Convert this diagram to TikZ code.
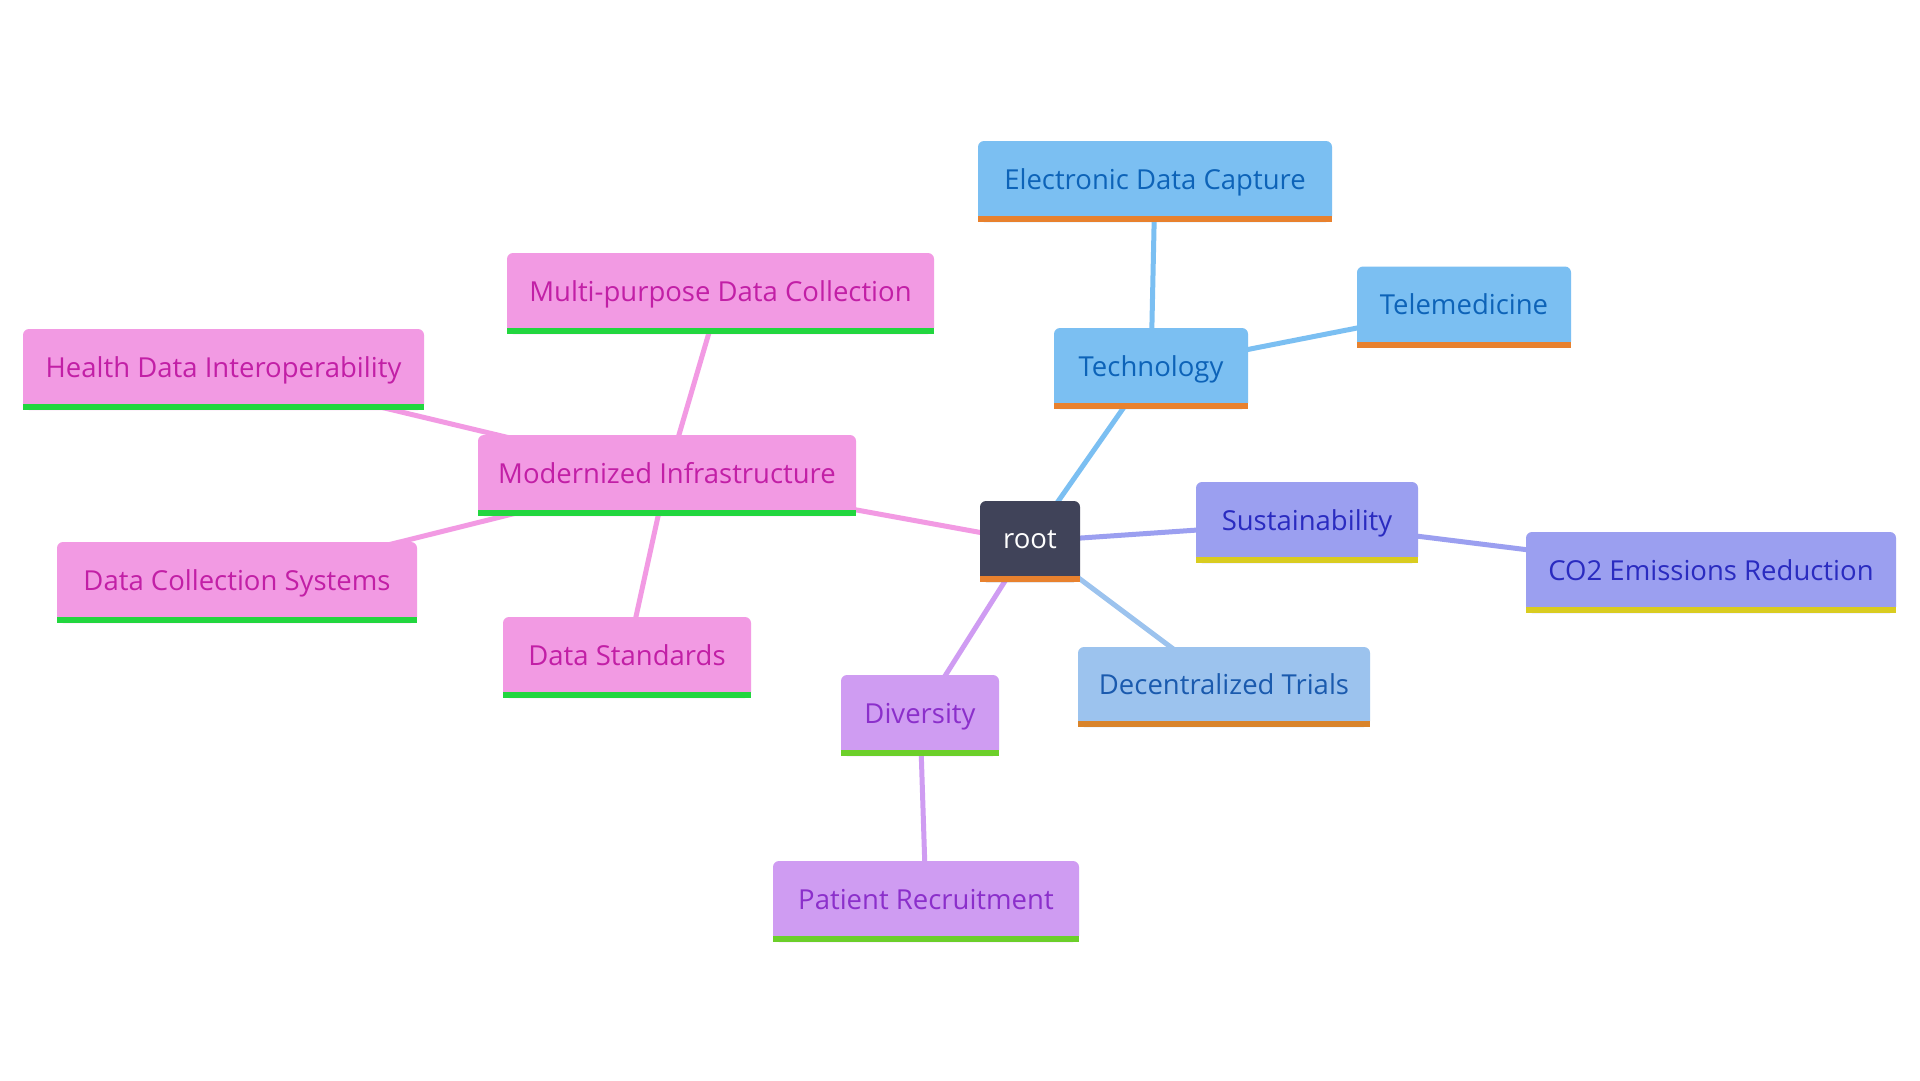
\documentclass[tikz,border=0pt]{standalone}
\usepackage{fontspec}
\setmainfont{Open Sans}
\usetikzlibrary{backgrounds}
\definecolor{rootfill}{HTML}{404359}
\definecolor{orangebar}{HTML}{E8812E}
\definecolor{orangebarb}{HTML}{D9842B}
\definecolor{techfill}{HTML}{7BBFF2}
\definecolor{techtext}{HTML}{0D63B8}
\definecolor{decfill}{HTML}{9CC3EE}
\definecolor{dectext}{HTML}{1A5AAE}
\definecolor{susfill}{HTML}{9B9FF0}
\definecolor{sustext}{HTML}{2A2BC0}
\definecolor{yellowbar}{HTML}{D9CC20}
\definecolor{divfill}{HTML}{CF9CF2}
\definecolor{divtext}{HTML}{8B2FCB}
\definecolor{limebar}{HTML}{6CCF2A}
\definecolor{pinkfill}{HTML}{F29AE3}
\definecolor{pinktext}{HTML}{C21FA6}
\definecolor{greenbar}{HTML}{22D63F}
\tikzset{
  mm/.style={rectangle, rounded corners=6pt, minimum height=81pt, inner sep=0pt,
    font=\fontsize{27.5}{32}\selectfont, text depth=0pt},
  rootbox/.style={mm, fill=rootfill, text=white},
  techbox/.style={mm, fill=techfill, text=techtext},
  decbox/.style={mm, fill=decfill, text=dectext},
  susbox/.style={mm, fill=susfill, text=sustext},
  divbox/.style={mm, fill=divfill, text=divtext},
  pinkbox/.style={mm, fill=pinkfill, text=pinktext},
  link/.style={line width=5pt},
}
\newcommand{\mmbar}[2]{\fill[#2] ([yshift=6pt]#1.south west) rectangle (#1.south east);}
\newcommand{\lbl}[1]{\raisebox{5pt}{#1}}
\begin{document}
\begin{tikzpicture}[x=1pt,y=-1pt]
\useasboundingbox (0,0) rectangle (1920,1080);
% nodes
\node[rootbox, minimum width=100pt] (root) at (1030,541.5) {\lbl{root}};
\node[techbox, minimum width=354pt] (edc) at (1155,181.5) {\lbl{Electronic Data Capture}};
\node[techbox, minimum width=194pt] (tech) at (1151,368.5) {\lbl{Technology}};
\node[techbox, minimum width=214pt] (tele) at (1464,307) {\lbl{Telemedicine}};
\node[pinkbox, minimum width=378pt] (mod) at (667,475.5) {\lbl{Modernized Infrastructure}};
\node[pinkbox, minimum width=427pt] (multi) at (720.5,293.5) {\lbl{Multi-purpose Data Collection}};
\node[pinkbox, minimum width=401pt] (health) at (223.5,369.5) {\lbl{Health Data Interoperability}};
\node[pinkbox, minimum width=360pt] (dcs) at (237,582.5) {\lbl{Data Collection Systems}};
\node[pinkbox, minimum width=248pt] (std) at (627,657.5) {\lbl{Data Standards}};
\node[divbox, minimum width=158pt] (div) at (920,715.5) {\lbl{Diversity}};
\node[divbox, minimum width=306pt] (pat) at (926,901.5) {\lbl{Patient Recruitment}};
\node[decbox, minimum width=292pt, minimum height=80pt] (dec) at (1224,687) {\lbl{Decentralized Trials}};
\node[susbox, minimum width=222pt] (sus) at (1307,522.5) {\lbl{Sustainability}};
\node[susbox, minimum width=370pt] (co2) at (1711,572.5) {\lbl{CO2 Emissions Reduction}};
% bars
\mmbar{root}{orangebar}
\mmbar{edc}{orangebar}
\mmbar{tech}{orangebar}
\mmbar{tele}{orangebar}
\mmbar{dec}{orangebarb}
\mmbar{sus}{yellowbar}
\mmbar{co2}{yellowbar}
\mmbar{div}{limebar}
\mmbar{pat}{limebar}
\mmbar{mod}{greenbar}
\mmbar{multi}{greenbar}
\mmbar{health}{greenbar}
\mmbar{dcs}{greenbar}
\mmbar{std}{greenbar}
% connectors
\begin{pgfonlayer}{background}
\fill[white] (0,0) rectangle (1920,1080);
\draw[link, techfill] (root.center) -- (tech.center);
\draw[link, techfill] (tech.center) -- (edc.center);
\draw[link, techfill] (tech.center) -- (tele.center);
\draw[link, decfill] (root.center) -- (dec.center);
\draw[link, susfill] (root.center) -- (sus.center);
\draw[link, susfill] (sus.center) -- (co2.center);
\draw[link, divfill] (root.center) -- (div.center);
\draw[link, divfill] (div.center) -- (pat.center);
\draw[link, pinkfill] (root.center) -- (mod.center);
\draw[link, pinkfill] (mod.center) -- (multi.center);
\draw[link, pinkfill] (mod.center) -- (health.center);
\draw[link, pinkfill] (mod.center) -- (dcs.center);
\draw[link, pinkfill] (mod.center) -- (std.center);
\end{pgfonlayer}
\end{tikzpicture}
\end{document}
